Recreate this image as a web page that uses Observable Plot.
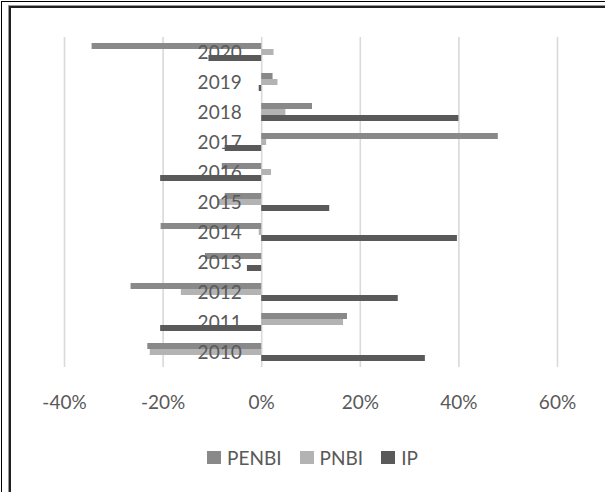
<!DOCTYPE html>
<html>
<head>
<meta charset="utf-8">
<script src="https://cdn.jsdelivr.net/npm/d3@7"></script>
<script src="https://cdn.jsdelivr.net/npm/@observablehq/plot@0.6"></script>
<style>
  html, body { margin: 0; padding: 0; background: #fff; }
  #wrap { position: relative; width: 605px; height: 492px; overflow: hidden; font-family: Lato, "Open Sans", sans-serif; }
  #outer { position: absolute; left: 1px; top: 1px; width: 700px; height: 700px; border-top: 1px solid #000; border-left: 1px solid #000; }
  #inner { position: absolute; left: 9px; top: 6px; width: 700px; height: 700px; border-top: 2px solid #222; border-left: 2px solid #222; box-shadow: -1px -1px 0 #999; }
  #chart { position: absolute; left: 0; top: 0; }
  #legend { position: absolute; left: 0; top: 445px; width: 605px; height: 24px; display: flex; justify-content: center; align-items: center; padding-left: 20px; box-sizing: border-box; font-size: 19px; color: #595959; }
  .item { display: flex; align-items: center; margin: 0 9px; }
  .sw { width: 14px; height: 13px; margin-right: 6px; }
</style>
</head>
<body>
<div id="wrap">
  <div id="outer"></div>
  <div id="inner"></div>
  <div id="chart"></div>
  <div id="legend"></div>
</div>
<script>
const years = [2010, 2011, 2012, 2013, 2014, 2015, 2016, 2017, 2018, 2019, 2020];
const series = ["PENBI", "PNBI", "IP"];
const colors = ["#898989", "#b3b3b3", "#5a5a5a"];
const penbi = [-23.1, 17.4, -26.5, -11.4, -20.4, -7.4, -8.0, 48.0, 10.3, 2.3, -34.4];
const pnbi  = [-22.6, 16.6, -16.3, 0, -0.5, -8.9, 2.0, 1.0, 4.9, 3.3, 2.5];
const ip    = [33.2, -20.5, 27.7, -2.9, 39.7, 13.8, -20.5, -7.4, 40.0, -0.5, -10.7];
const xTicks = [-40, -20, 0, 20, 40, 60];

const table = [];
years.forEach((yr, i) => {
  table.push({year: yr, series: "PENBI", value: penbi[i]});
  table.push({year: yr, series: "PNBI", value: pnbi[i]});
  table.push({year: yr, series: "IP", value: ip[i]});
});

const chart = Plot.plot({
  width: 605,
  height: 430,
  marginTop: 36,
  marginBottom: 62,
  marginLeft: 64,
  marginRight: 48,
  style: {fontFamily: "Lato, 'Open Sans', sans-serif", fontSize: "19px", color: "#595959", background: "transparent"},
  x: {domain: [-40, 60], ticks: xTicks, tickFormat: d => d + "%", tickSize: 0, tickPadding: 28, label: null},
  y: {domain: series, paddingInner: 0, paddingOuter: 0.88, axis: null},
  fy: {domain: years.slice().reverse(), padding: 0, axis: null, label: null},
  color: {domain: series, range: colors},
  marks: [
    Plot.ruleX(xTicks, {stroke: "#d9d9d9", strokeWidth: 1.6}),
    Plot.barX(table, {x: "value", y: "series", fy: "year", fill: "series", insetTop: 0, insetBottom: 0}),
    Plot.text(years, {fy: d => d, x: 0, text: d => String(d), textAnchor: "end", dx: -20, fontSize: 19, fill: "#595959"})
  ]
});
document.getElementById("chart").appendChild(chart);

const legend = document.getElementById("legend");
series.forEach((s, i) => {
  const item = document.createElement("div");
  item.className = "item";
  const sw = document.createElement("div");
  sw.className = "sw";
  sw.style.background = colors[i];
  const t = document.createElement("span");
  t.textContent = s;
  item.appendChild(sw);
  item.appendChild(t);
  legend.appendChild(item);
});
</script>
</body>
</html>
